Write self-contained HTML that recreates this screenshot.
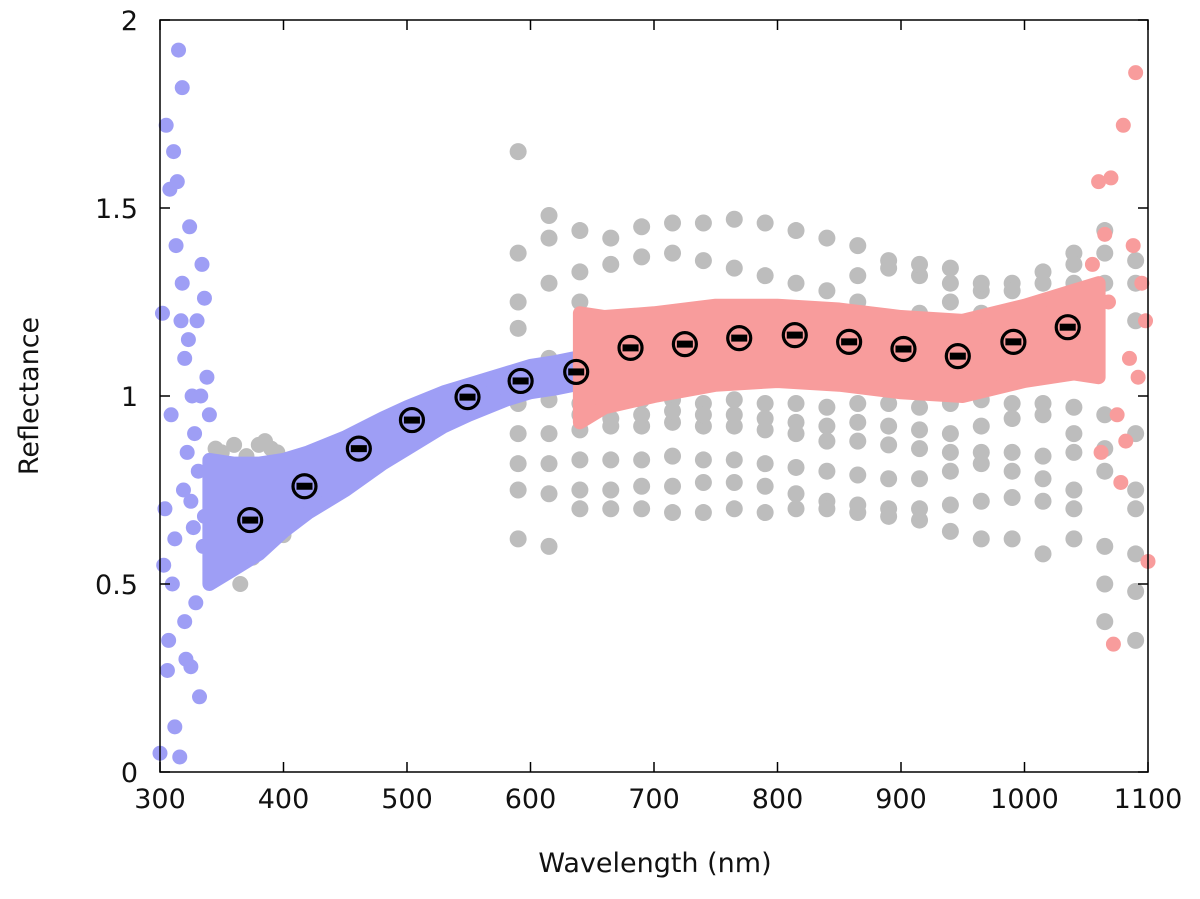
<!DOCTYPE html>
<html><head><meta charset="utf-8"><style>
body{margin:0;background:#fff;}
svg text{font-family:"DejaVu Sans","Liberation Sans",sans-serif;fill:#111;}
</style></head><body>
<svg id="chart" width="1200" height="894" xmlns="http://www.w3.org/2000/svg">
<g id="plot"></g>
<g id="axes"></g>
</svg>
<script>
const blueBandX=[340,360,380,400,420,450,480,500,530,550,580,600,620,635];
const blueBandLo=[0.5,0.54,0.58,0.64,0.69,0.75,0.82,0.86,0.92,0.95,0.99,1.01,1.02,1.03];
const blueBandHi=[0.83,0.82,0.82,0.83,0.85,0.89,0.94,0.97,1.01,1.03,1.06,1.08,1.09,1.1];
const redBandX=[640,660,700,750,800,850,900,950,1000,1040,1060];
const redBandLo=[0.93,0.97,1.0,1.03,1.04,1.03,1.01,1.0,1.04,1.06,1.05];
const redBandHi=[1.22,1.21,1.22,1.24,1.24,1.23,1.21,1.2,1.24,1.28,1.3];
const blueScatterX=[300,302,305,306,308,310,311,312,314,315,316,318,318,320,320,322,324,325,326,328,330,332,334,335,336,338,340,304,309,313,317,321,327,331,303,307,319,323,329,333,312,325,336];
const blueScatterY=[0.05,1.22,1.72,0.27,1.55,0.5,1.65,0.12,1.57,1.92,0.04,1.82,1.3,1.1,0.4,0.85,1.45,0.28,1.0,0.9,1.2,0.2,1.35,0.6,1.26,1.05,0.95,0.7,0.95,1.4,1.2,0.3,0.65,0.8,0.55,0.35,0.75,1.15,0.45,1.0,0.62,0.72,0.68];
const redScatterX=[1050,1060,1065,1070,1075,1080,1085,1090,1095,1100,1055,1062,1068,1078,1088,1098,1072,1082,1092];
const redScatterY=[1.2,1.57,1.43,1.58,0.95,1.72,1.1,1.86,1.3,0.56,1.35,0.85,1.25,0.77,1.4,1.2,0.34,0.88,1.05];
const grayX=[590,615,640,665,690,715,740,765,790,815,840,865,890,915,940,965,990,1015,1040,1065,1090];
const gray1=[1.38,1.42,1.44,1.42,1.45,1.46,1.46,1.47,1.46,1.44,1.42,1.4,1.36,1.32,1.3,1.28,1.3,1.33,1.38,1.44,1.36];
const gray2=[1.25,1.3,1.33,1.35,1.37,1.38,1.36,1.34,1.32,1.3,1.28,1.32,1.34,1.35,1.34,1.3,1.28,1.3,1.35,1.38,1.3];
const gray3=[0.98,0.99,0.98,0.98,0.99,0.99,0.98,0.99,0.98,0.98,0.97,0.98,0.98,0.97,0.98,0.99,0.98,0.98,0.97,0.95,0.9];
const gray4=[0.9,0.9,0.91,0.92,0.92,0.93,0.92,0.92,0.91,0.9,0.88,0.88,0.87,0.86,0.85,0.85,0.85,0.84,0.85,0.86,0.75];
const gray5=[0.82,0.82,0.83,0.83,0.83,0.84,0.83,0.83,0.82,0.81,0.8,0.79,0.78,0.78,0.8,0.82,0.8,0.78,0.75,0.6,0.58];
const gray6=[0.75,0.74,0.75,0.75,0.76,0.76,0.77,0.77,0.76,0.74,0.72,0.71,0.7,0.7,0.71,0.72,0.73,0.72,0.7,0.5,0.48];
const gray7=[0.62,0.6,0.7,0.7,0.7,0.69,0.69,0.7,0.69,0.7,0.7,0.69,0.68,0.67,0.64,0.62,0.62,0.58,0.62,0.4,0.35];
const gray8=[1.65,1.48,1.25,1.2,1.18,1.18,1.15,1.16,1.17,1.2,1.22,1.25,1.2,1.22,1.25,1.22,1.2,1.25,1.3,1.3,1.2];
const gray9=[1.18,1.1,0.95,0.94,0.95,0.96,0.95,0.95,0.94,0.93,0.92,0.93,0.92,0.91,0.9,0.92,0.94,0.95,0.9,0.8,0.7];
const grayLeftX=[345,350,355,360,365,370,375,380,385,390,395,400,410,420,440,460,480,500,520,540,560];
const grayLeftY=[0.86,0.85,0.55,0.87,0.5,0.84,0.57,0.87,0.88,0.86,0.85,0.63,0.82,0.7,0.8,0.82,0.86,0.92,0.95,0.98,1.02];
const meanX=[373,417,461,504,549,592,637,681,725,769,814,858,902,946,991,1035];
const meanY=[0.67,0.76,0.86,0.936,0.997,1.04,1.064,1.128,1.138,1.154,1.162,1.144,1.125,1.106,1.144,1.183];
const xTicks=[300,400,500,600,700,800,900,1000,1100];
const yTicks=[0,0.5,1,1.5,2];
const yTickLabels=["0","0.5","1","1.5","2"];

const L=160,R=1148,T=20,B=772;
const sx=v=>L+(v-300)/800*(R-L);
const sy=v=>B-v/2*(B-T);
const NS="http://www.w3.org/2000/svg";
const plot=document.getElementById('plot'),axes=document.getElementById('axes');
function mk(tag,attrs,parent){const e=document.createElementNS(NS,tag);for(const k in attrs)e.setAttribute(k,attrs[k]);parent.appendChild(e);return e;}
function dot(x,y,c,name,r){const e=mk('circle',{cx:sx(x),cy:sy(y),r:r||7.5,fill:c},plot);

}
[gray1,gray2,gray3,gray4,gray5,gray6,gray7,gray8,gray9].forEach(s=>s.forEach((v,i)=>dot(grayX[i],v,'#bdbdbd','gray-point',8.5)));
grayLeftX.forEach((x,i)=>dot(x,grayLeftY[i],'#bdbdbd','gray-point',8));
function band(X,lo,hi,c,name){let d='M'+X.map((x,i)=>sx(x)+','+sy(hi[i])).join(' L');
d+=' L'+X.slice().reverse().map((x,j)=>{const i=X.length-1-j;return sx(x)+','+sy(lo[i]);}).join(' L')+'Z';
const e=mk('path',{d:d,fill:c,stroke:c,'stroke-width':14,'stroke-linejoin':'round'},plot);

}
band(blueBandX,blueBandLo,blueBandHi,'#9e9ef5','blue-band');
band(redBandX,redBandLo,redBandHi,'#f89c9c','red-band');
blueScatterX.forEach((x,i)=>dot(x,blueScatterY[i],'#9e9ef5','blue-point'));
redScatterX.forEach((x,i)=>dot(x,redScatterY[i],'#f89c9c','red-point'));
meanX.forEach((x,i)=>{const g=mk('g',{},plot);


mk('circle',{cx:sx(x),cy:sy(meanY[i]),r:11.5,fill:'none',stroke:'#000','stroke-width':3.2},g);
mk('rect',{x:sx(x)-8,y:sy(meanY[i])-3.5,width:16,height:7,fill:'#000'},g);});
mk('rect',{x:L,y:T,width:R-L,height:B-T,fill:'none',stroke:'#000','stroke-width':1.5},axes);
xTicks.forEach(v=>{mk('line',{x1:sx(v),x2:sx(v),y1:B,y2:B-10,stroke:'#000','stroke-width':1.5},axes);
mk('line',{x1:sx(v),x2:sx(v),y1:T,y2:T+10,stroke:'#000','stroke-width':1.5},axes);
const t=mk('text',{x:sx(v),y:808,'text-anchor':'middle','font-size':27},axes);t.textContent=v;

});
yTicks.forEach((v,i)=>{mk('line',{x1:L,x2:L+10,y1:sy(v),y2:sy(v),stroke:'#000','stroke-width':1.5},axes);
mk('line',{x1:R,x2:R-10,y1:sy(v),y2:sy(v),stroke:'#000','stroke-width':1.5},axes);
const t=mk('text',{x:138,y:sy(v)+10,'text-anchor':'end','font-size':27},axes);t.textContent=yTickLabels[i];

});
const xt=mk('text',{x:655,y:872,'text-anchor':'middle','font-size':27},axes);xt.textContent='Wavelength (nm)';


const yt=mk('text',{x:0,y:0,'text-anchor':'middle','font-size':27,transform:'translate(38,396) rotate(-90)'},axes);yt.textContent='Reflectance';


</script>
</body></html>
